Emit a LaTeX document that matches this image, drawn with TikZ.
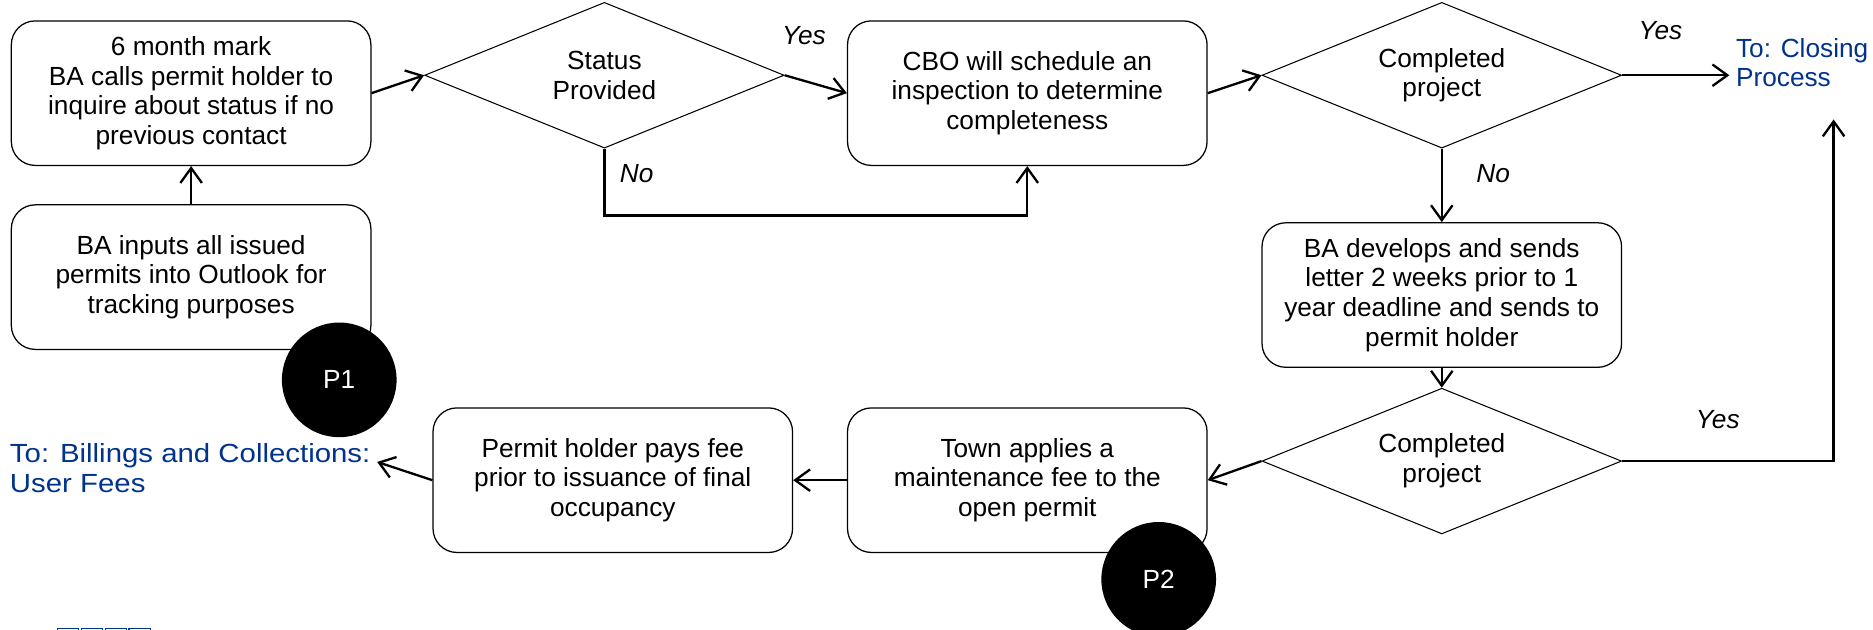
\documentclass[tikz,border=0pt]{standalone}
\usepackage{fontspec}
\setmainfont{Liberation Sans}
\newfontfamily\widesans{Liberation Sans}[FakeStretch=1.12]
\usetikzlibrary{arrows.meta, positioning, shapes.geometric}
\definecolor{linkblue}{RGB}{0,51,141}

\begin{document}
\begin{tikzpicture}[
  font=\fontsize{12.5}{14.2}\selectfont,
  procbox/.style={draw, line width=0.6pt, rounded corners=0.4cm, minimum width=6.02cm,
                  minimum height=2.42cm, align=center, inner sep=2pt},
  decision/.style={draw, line width=0.5pt, diamond, aspect=2.43, inner sep=0pt,
                   minimum width=6.02cm, minimum height=2.44cm, align=center},
  arrow/.style={-{Straight Barb[length=2.5mm, width=3.6mm]}, line width=1.1pt},
  answer/.style={font=\fontsize{12.5}{14.2}\selectfont\itshape},
  pmarker/.style={circle, fill=black, text=white, minimum size=1.92cm, inner sep=0pt},
  linktext/.style={text=linkblue, align=left, anchor=west, inner sep=0pt}
]
  \useasboundingbox (0,0) rectangle (31.36,10.54);

  % Top row
  \node[procbox] (mark) at (3.20, 8.98) {6 month mark\\BA calls permit holder to\\inquire about status if no\\previous contact};
  \node[decision] (status) at (10.12, 9.28) {Status\\Provided};
  \node[procbox] (inspect) at (17.20, 8.98) {CBO will schedule an\\inspection to determine\\completeness};
  \node[decision] (done1) at (24.14, 9.28) {Completed\\project};
  \node[linktext] (closing) at (29.06, 9.49) {To: Closing\\Process};

  % Left column
  \node[procbox] (inputs) at (3.20, 5.90) {BA inputs all issued\\permits into Outlook for\\tracking purposes};

  % Right column
  \node[procbox] (letter) at (24.14, 5.60) {BA develops and sends\\letter 2 weeks prior to 1\\year deadline and sends to\\permit holder};
  \node[decision] (done2) at (24.14, 2.82) {Completed\\project};
  \coordinate (closeup) at (30.70, 8.54);

  % Bottom row
  \node[procbox] (fee) at (17.20, 2.50) {Town applies a\\maintenance fee to the\\open permit};
  \node[procbox] (pays) at (10.26, 2.50) {Permit holder pays fee\\prior to issuance of final\\occupancy};
  \node[linktext, font=\fontsize{12.5}{14.2}\widesans] (billing) at (0.16, 2.70) {To: Billings and Collections:\\User Fees};

  % Process markers
  \node[pmarker] (p1) at (5.68, 4.18) {P1};
  \node[pmarker] (p2) at (19.40, 0.84) {P2};

  % Arrows
  \draw[arrow] (inputs) -- (mark);
  \draw[arrow] (mark.east) -- (status.west);
  \draw[arrow] (status.east) -- (inspect.west);
  \draw[arrow] (status.south) -- ++(0,-1.12) -| (inspect.south);
  \draw[arrow] (inspect.east) -- (done1.west);
  \draw[arrow] (done1.east) -- ([xshift=-3pt]done1.east -| closing.west);
  \draw[arrow] (done1) -- (letter);
  \draw[arrow] (letter) -- (done2);
  \draw[arrow] (done2.east) -| (closeup);
  \draw[arrow] (done2.west) -- (fee.east);
  \draw[arrow] (fee) -- (pays);
  \draw[arrow] (pays.west) -- ([xshift=3pt, yshift=3pt]billing.east);

  % Answer labels
  \node[answer] (yes1) at (13.46, 9.94) {Yes};
  \node[answer] (no1) at (10.66, 7.64) {No};
  \node[answer] (yes2) at (27.80, 10.02) {Yes};
  \node[answer] (no2) at (25.00, 7.64) {No};
  \node[answer] (yes3) at (28.76, 3.52) {Yes};

  % Logo squares at the cut-off footer
  \foreach \i in {0,...,3}
    \draw[linkblue, line width=0.5pt] (0.96+\i*0.40, 0.02) rectangle ++(0.36,-0.4);
\end{tikzpicture}
\end{document}
